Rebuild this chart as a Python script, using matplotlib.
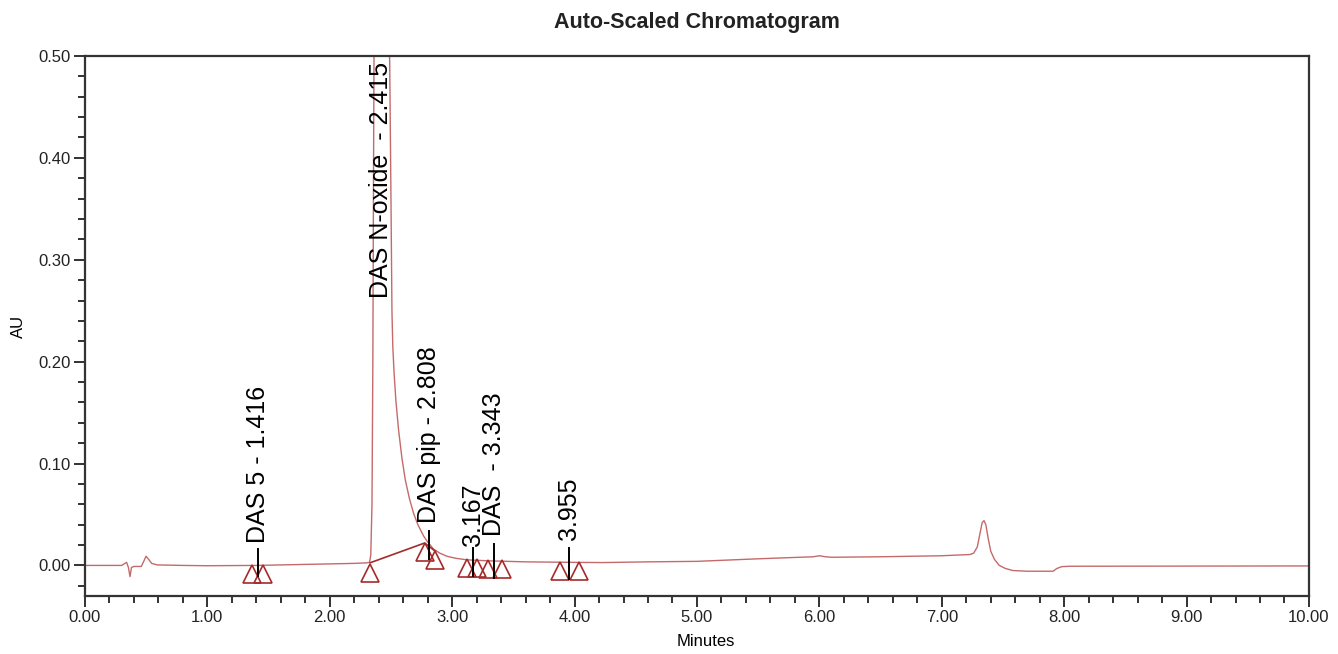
import matplotlib
matplotlib.use("Agg")
import matplotlib.pyplot as plt
from matplotlib.ticker import MultipleLocator, FormatStrFormatter

# chromatogram trace (minutes, AU)
trace_t = [0.00, 0.30, 0.34, 0.355, 0.368, 0.38, 0.40, 0.46, 0.48, 0.499,
           0.52, 0.545, 0.59, 0.80, 1.00, 1.40, 1.80, 2.20, 2.30, 2.325,
           2.335, 2.345, 2.352, 2.358, 2.365, 2.40, 2.44, 2.475, 2.49, 2.50,
           2.508, 2.515, 2.525, 2.54, 2.562, 2.59, 2.617, 2.65, 2.685, 2.72,
           2.766, 2.80, 2.848, 2.90, 2.957, 3.03, 3.12, 3.30, 3.60, 4.00,
           4.23, 4.60, 5.00, 5.50, 5.95, 6.00, 6.05, 6.10, 6.50, 7.00,
           7.23, 7.26, 7.29, 7.31, 7.33, 7.345, 7.36, 7.38, 7.40, 7.43,
           7.47, 7.52, 7.58, 7.70, 7.91, 7.94, 7.98, 8.05, 10.00]
trace_au = [0.000, 0.000, 0.003, -0.002, -0.011, -0.002, -0.001, -0.001, 0.004, 0.009,
            0.006, 0.002, 0.0005, 0.000, -0.0003, 0.000, 0.001, 0.002, 0.0025, 0.003,
            0.010, 0.06, 0.20, 0.40, 0.60, 0.85, 0.80, 0.60, 0.49, 0.36,
            0.25, 0.215, 0.19, 0.162, 0.133, 0.105, 0.084, 0.066, 0.051, 0.040,
            0.029, 0.023, 0.016, 0.012, 0.009, 0.007, 0.0055, 0.0045, 0.0035, 0.003,
            0.0028, 0.0035, 0.004, 0.0065, 0.0085, 0.0095, 0.0085, 0.008, 0.0085, 0.0095,
            0.0107, 0.012, 0.018, 0.030, 0.042, 0.044, 0.040, 0.026, 0.014, 0.006,
            0.000, -0.003, -0.005, -0.0057, -0.0057, -0.003, -0.0012, -0.0008, -0.0005]

# integration baseline (drop line) under the N-oxide / pip peaks
base_t = [2.33, 2.775, 2.862]
base_au = [0.0026, 0.022, 0.014]

# peak start / end markers
mark_t = [1.365, 1.458, 2.33, 2.775, 2.862, 3.12, 3.20, 3.295, 3.41, 3.884, 4.033]
mark_au = [-0.008, -0.008, -0.007, 0.013, 0.005, -0.003, -0.003, -0.004, -0.004, -0.0055, -0.0055]

# peak labels
peak_rt = [1.416, 2.415, 2.808, 3.167, 3.343, 3.955]
peak_names = ["DAS 5 - 1.416", "DAS N-oxide  - 2.415", "DAS pip - 2.808",
              "3.167", "DAS  - 3.343", "3.955"]
label_bottom = [0.022, 0.262, 0.042, 0.019, 0.029, 0.025]
leader_top = [0.016, 0.262, 0.034, 0.017, 0.021, 0.017]
leader_bot = [-0.010, 0.262, 0.006, -0.010, -0.012, -0.013]

SANS = ["Liberation Sans", "DejaVu Sans"]
TRACE = "#c46a6a"
MARK = "#a52a2a"

fig = plt.figure(figsize=(13.38, 6.54), dpi=100)
ax = fig.add_axes([0.0635, 0.0887, 0.9148, 0.8257])

ax.plot(trace_t, trace_au, color=TRACE, lw=1.0, zorder=2)
ax.plot(base_t, base_au, color=MARK, lw=1.2, zorder=3)
ax.plot(mark_t, mark_au, ls="none", marker="^", ms=13, mfc="none",
        mec=MARK, mew=1.2, zorder=4)

for rt, name, yb, lt, lb in zip(peak_rt, peak_names, label_bottom,
                                leader_top, leader_bot):
    if lt > lb:
        ax.plot([rt, rt], [lb, lt], color="black", lw=1.4, zorder=5)
    ax.text(rt, yb, name, rotation=90, ha="center", va="bottom",
            family=SANS, fontsize=18, color="black", zorder=6)

ax.set_xlim(0, 10)
ax.set_ylim(-0.03, 0.50)
ax.xaxis.set_major_locator(MultipleLocator(1.0))
ax.xaxis.set_minor_locator(MultipleLocator(0.2))
ax.yaxis.set_major_locator(MultipleLocator(0.1))
ax.yaxis.set_minor_locator(MultipleLocator(0.02))
ax.xaxis.set_major_formatter(FormatStrFormatter("%.2f"))
ax.yaxis.set_major_formatter(FormatStrFormatter("%.2f"))
ax.tick_params(which="both", direction="out", top=False, right=False,
               color="#222222", width=1.3)
ax.tick_params(which="major", length=8, pad=2)
ax.tick_params(which="minor", length=5)
for lab in ax.get_xticklabels() + ax.get_yticklabels():
    lab.set_family(SANS)
    lab.set_fontsize(12)
    lab.set_color("#222222")

for sp in ax.spines.values():
    sp.set_linewidth(1.6)
    sp.set_color("#333333")

ax.set_xlabel("Minutes", family=SANS, fontsize=12)
ax.xaxis.set_label_coords(0.507, -0.07)
ax.set_ylabel("AU", family=SANS, fontsize=12)
ax.yaxis.set_label_coords(-0.048, 0.5)

fig.text(0.521, 0.966, "Auto-Scaled Chromatogram", ha="center", va="center",
         family=SANS, fontsize=15.5, fontweight="bold", color="#222222")

fig.savefig("out.png", dpi=100)
